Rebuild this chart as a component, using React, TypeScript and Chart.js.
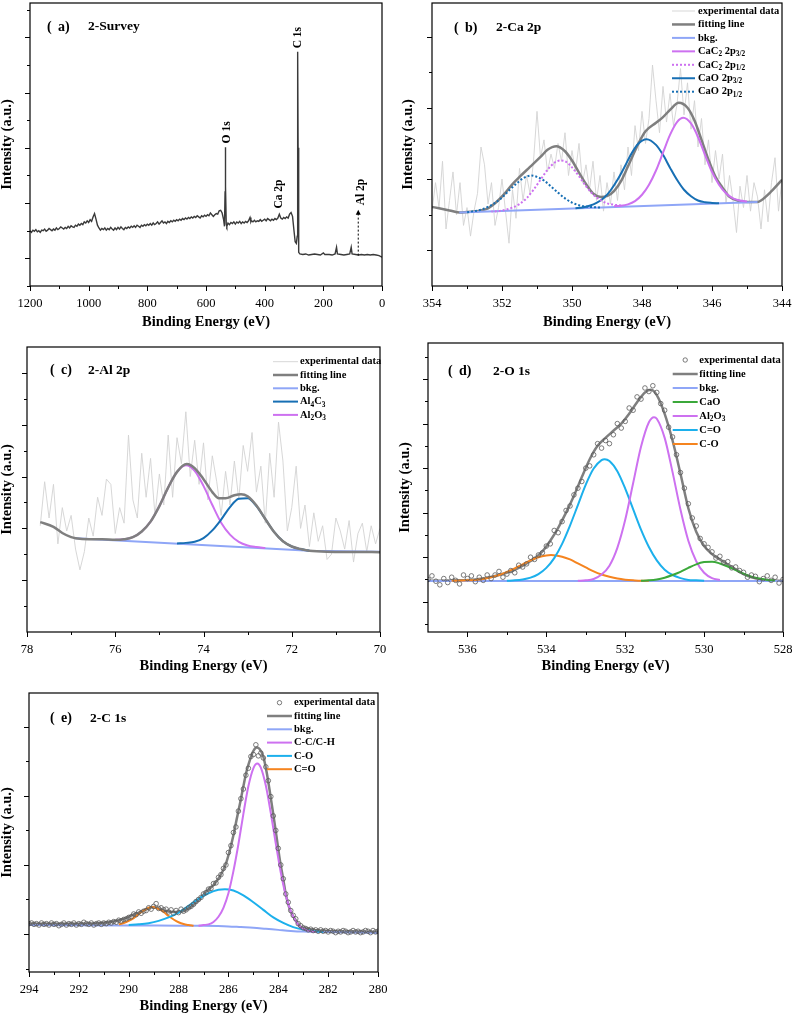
import React, { useEffect, useRef } from "react";
import { Chart, registerables } from "chart.js";

Chart.register(...registerables);

type Pt = [number, number];
const SERIF = "'Liberation Serif', 'Times New Roman', serif";
Chart.defaults.font.family = SERIF;
Chart.defaults.color = "#000";

// ---------------- colours ----------------
const C_FIT = "#7f7f7f";
const C_BKG = "#8fa6f7";
const C_VIOLET = "#cd71f0";
const C_DBLUE = "#176fb4";
const C_LBLUE = "#1cb0ec";
const C_ORANGE = "#f5841f";
const C_GREEN = "#3ba83a";
const C_EXP = "#d3d3d3";
const C_CIRC = "#5a5a5a";
const C_SURVEY = "#3a3a3a";

// ---------------- (a) 2-Survey ----------------
const aXMajor = [0, 200, 400, 600, 800, 1000, 1200];
const aXMinor = [100, 300, 500, 700, 900, 1100];
const aYMajor = [0, 1, 2, 3, 4];
const aYMinor = [-0.5, 0.5, 1.5, 2.5, 3.5, 4.5];
const aSurvey: Pt[] = [
  [1200, 0.5], [1195, 0.47], [1190, 0.51], [1185, 0.49], [1180, 0.52], [1175, 0.48], [1170, 0.5], [1165, 0.47],
  [1160, 0.51], [1155, 0.5], [1150, 0.53], [1145, 0.49], [1140, 0.51], [1135, 0.54], [1130, 0.52], [1125, 0.5],
  [1120, 0.53], [1115, 0.51], [1110, 0.55], [1105, 0.52], [1100, 0.54], [1095, 0.57], [1090, 0.55], [1085, 0.53],
  [1080, 0.56], [1075, 0.54], [1070, 0.58], [1065, 0.55], [1060, 0.59], [1055, 0.57], [1050, 0.56], [1045, 0.6],
  [1040, 0.58], [1035, 0.62], [1030, 0.6], [1025, 0.63], [1020, 0.61], [1015, 0.66], [1010, 0.64], [1005, 0.68],
  [1000, 0.65], [995, 0.7], [990, 0.67], [985, 0.75], [980, 0.81], [975, 0.71], [970, 0.6], [965, 0.55],
  [960, 0.51], [955, 0.54], [950, 0.52], [945, 0.55], [940, 0.51], [935, 0.54], [930, 0.52], [925, 0.56],
  [920, 0.53], [915, 0.51], [910, 0.55], [905, 0.52], [900, 0.56], [895, 0.53], [890, 0.57], [885, 0.54],
  [880, 0.52], [875, 0.56], [870, 0.54], [865, 0.57], [860, 0.55], [855, 0.58], [850, 0.56], [845, 0.59],
  [840, 0.56], [835, 0.6], [830, 0.58], [825, 0.56], [820, 0.6], [815, 0.58], [810, 0.61], [805, 0.59],
  [800, 0.62], [795, 0.6], [790, 0.63], [785, 0.6], [780, 0.64], [775, 0.61], [770, 0.63], [765, 0.66],
  [760, 0.62], [755, 0.65], [750, 0.68], [745, 0.64], [740, 0.66], [735, 0.63], [730, 0.67], [725, 0.65],
  [720, 0.68], [715, 0.66], [710, 0.69], [705, 0.67], [700, 0.7], [695, 0.68], [690, 0.71], [685, 0.69],
  [680, 0.72], [675, 0.7], [670, 0.73], [665, 0.71], [660, 0.74], [655, 0.72], [650, 0.75], [645, 0.73],
  [640, 0.76], [635, 0.74], [630, 0.77], [625, 0.75], [620, 0.73], [615, 0.77], [610, 0.75], [605, 0.78],
  [600, 0.76], [595, 0.79], [590, 0.77], [585, 0.82], [580, 0.79], [575, 0.76], [570, 0.79], [565, 0.81],
  [560, 0.8], [555, 0.86], [550, 0.87], [545, 0.82], [540, 0.7], [537, 0.58], [535, 1.2], [534, 2.01],
  [533, 1.3], [531, 0.62], [529, 0.58], [525, 0.64], [520, 0.61], [515, 0.65], [510, 0.63], [505, 0.66],
  [500, 0.62], [495, 0.66], [490, 0.64], [485, 0.67], [480, 0.63], [475, 0.66], [470, 0.64], [465, 0.67],
  [460, 0.65], [455, 0.68], [450, 0.74], [447, 0.66], [445, 0.68], [440, 0.66], [435, 0.69], [430, 0.66],
  [425, 0.68], [420, 0.67], [415, 0.7], [410, 0.67], [405, 0.69], [400, 0.71], [395, 0.68], [390, 0.72],
  [385, 0.7], [380, 0.68], [375, 0.71], [370, 0.69], [365, 0.72], [360, 0.7], [355, 0.73], [350, 0.8],
  [345, 0.73], [340, 0.71], [335, 0.74], [330, 0.72], [325, 0.75], [320, 0.73], [315, 0.8], [310, 0.83],
  [305, 0.76], [300, 0.5], [296, 0.3], [292, 0.27], [289, 0.4], [288, 1.8], [287, 3.74], [286, 2.0],
  [285, 0.6], [283, 0.11], [280, 0.08], [270, 0.07], [260, 0.08], [250, 0.06], [240, 0.07], [230, 0.08],
  [220, 0.07], [210, 0.06], [200, 0.1], [195, 0.07], [180, 0.07], [170, 0.06], [160, 0.08], [155, 0.2],
  [152, 0.08], [140, 0.07], [130, 0.06], [120, 0.07], [110, 0.08], [105, 0.2], [102, 0.08], [90, 0.07],
  [80, 0.06], [70, 0.07], [60, 0.06], [50, 0.07], [40, 0.06], [30, 0.07], [20, 0.06], [10, 0.05], [0, 0.02],
];
// peak annotations: text, binding energy, intensity where the text starts
const aPeakLabels: { text: string; be: number; v: number }[] = [
  { text: "O 1s", be: 528, v: 2.08 },
  { text: "C 1s", be: 286, v: 3.8 },
  { text: "Ca 2p", be: 351, v: 0.9 },
  { text: "Al 2p", be: 72, v: 0.96 },
];
const aArrow = { be: 81, from: 0.05, to: 0.88 };

// ---------------- (b) 2-Ca 2p ----------------
const bXMajor = [344, 346, 348, 350, 352, 354];
const bXMinor = [345, 347, 349, 351, 353];
const bYMajor = [0, 1, 2, 3];
const bYMinor = [0.5, 1.5, 2.5];
const bExpStart = 344.0;
const bExpStep = 0.1;
const bExpY = [
  1.0, 0.55, 1.3, 0.95, 0.4, 0.85, 0.3, 0.75, 0.95, 0.55,
  1.05, 0.6, 0.9, 0.25, 0.7, 1.05, 0.65, 1.35, 1.0, 1.4,
  0.95, 1.55, 1.2, 1.85, 1.45, 2.1, 1.7, 2.35, 1.9, 2.55,
  2.05, 1.75, 2.2, 1.8, 2.3, 1.65, 2.1, 2.6, 1.85, 1.5,
  1.95, 1.4, 1.75, 1.05, 1.45, 0.85, 1.2, 0.7, 1.1, 0.65,
  0.95, 0.55, 1.05, 0.7, 1.25, 0.85, 1.2, 0.95, 1.5, 1.1,
  1.4, 1.05, 1.65, 1.25, 1.5, 1.15, 1.35, 1.1, 1.55, 1.3,
  1.95, 1.25, 0.8, 1.05, 0.7, 1.15, 0.45, 0.85, 0.1, 0.55,
  1.0, 0.6, 0.35, 0.95, 0.65, 1.2, 1.45, 0.8, 0.55, 0.2,
  0.6, 0.35, 0.95, 0.5, 1.1, 0.7, 0.3, 1.25, 0.6, 0.95,
  0.55,
];
const bFit: Pt[] = [
  [344.0, 0.99], [344.3, 0.83], [344.6, 0.7], [344.7, 0.68], [345.0, 0.68], [345.2, 0.69], [345.5, 0.75],
  [345.7, 0.88], [345.9, 1.03], [346.1, 1.27], [346.3, 1.55], [346.5, 1.82], [346.7, 2.0], [346.95, 2.07],
  [347.2, 1.97], [347.4, 1.87], [347.6, 1.79], [347.9, 1.67], [348.1, 1.5], [348.4, 1.18], [348.6, 0.97],
  [348.8, 0.83], [349.0, 0.76], [349.17, 0.75], [349.4, 0.8], [349.6, 0.93], [349.8, 1.09], [350.0, 1.26],
  [350.2, 1.39], [350.45, 1.46], [350.7, 1.41], [350.9, 1.31], [351.2, 1.17], [351.5, 1.03], [351.7, 0.93],
  [351.9, 0.81], [352.2, 0.66], [352.4, 0.59], [352.6, 0.56], [352.9, 0.54], [353.2, 0.53], [353.5, 0.56],
  [353.8, 0.59], [354.0, 0.61],
];
const bBkg: Pt[] = [[344.7, 0.68], [353.22, 0.53]];
const bCaC2_32: Pt[] = [
  [345.0, 0.684], [345.2, 0.7], [345.4, 0.73], [345.6, 0.8], [345.8, 0.92], [346.0, 1.1], [346.2, 1.34],
  [346.4, 1.59], [346.6, 1.78], [346.82, 1.86], [347.0, 1.8], [347.2, 1.62], [347.4, 1.37], [347.6, 1.12],
  [347.8, 0.92], [348.0, 0.78], [348.2, 0.69], [348.4, 0.645], [348.6, 0.625], [348.8, 0.62],
];
const bCaC2_12: Pt[] = [
  [348.6, 0.63], [348.8, 0.64], [349.0, 0.66], [349.2, 0.71], [349.4, 0.785], [349.6, 0.9], [349.8, 1.04],
  [350.0, 1.165], [350.2, 1.25], [350.33, 1.26], [350.5, 1.23], [350.7, 1.13], [350.9, 0.99], [351.1, 0.85],
  [351.3, 0.73], [351.5, 0.65], [351.7, 0.6], [351.9, 0.57], [352.1, 0.55], [352.3, 0.545],
];
const bCaO_32: Pt[] = [
  [345.8, 0.66], [346.0, 0.665], [346.2, 0.675], [346.4, 0.7], [346.6, 0.76], [346.8, 0.85], [347.0, 0.99],
  [347.2, 1.16], [347.4, 1.34], [347.6, 1.48], [347.87, 1.56], [348.1, 1.5], [348.3, 1.36], [348.5, 1.17],
  [348.7, 0.99], [348.9, 0.84], [349.1, 0.73], [349.3, 0.665], [349.5, 0.625], [349.7, 0.6], [349.9, 0.59],
];
const bCaO_12: Pt[] = [
  [349.2, 0.6], [349.4, 0.606], [349.6, 0.614], [349.8, 0.633], [350.0, 0.67], [350.2, 0.73], [350.4, 0.81],
  [350.6, 0.895], [350.8, 0.98], [351.0, 1.03], [351.16, 1.05], [351.4, 1.01], [351.6, 0.93], [351.8, 0.84],
  [352.0, 0.74], [352.2, 0.665], [352.4, 0.61], [352.6, 0.57], [352.8, 0.55], [353.0, 0.535],
];

// ---------------- (c) 2-Al 2p ----------------
const cXMajor = [70, 72, 74, 76, 78];
const cXMinor = [71, 73, 75, 77];
const cYMajor = [0, 1, 2, 3, 4];
const cYMinor = [-0.5, 0.5, 1.5, 2.5, 3.5];
const cExpStart = 70.0;
const cExpStep = 0.1;
const cExpY = [
  1.0, 0.7, 1.05, 0.55, 1.1, 0.9, 0.35, 1.15, 0.6, 0.95,
  1.2, 0.5, 0.4, 1.05, 0.75, 1.3, 0.65, 1.45, 1.0, 2.2,
  1.4, 0.95, 2.3, 3.05, 1.6, 2.45, 1.1, 2.2, 1.7, 2.85,
  2.1, 2.6, 1.55, 2.3, 1.45, 2.1, 1.25, 1.9, 2.4, 1.55,
  2.65, 1.85, 2.7, 2.0, 3.25, 2.25, 2.75, 1.6, 2.8, 1.45,
  2.05, 1.25, 2.35, 1.6, 2.45, 1.2, 1.55, 2.8, 1.1, 1.4,
  0.9, 1.85, 1.95, 1.25, 1.6, 0.85, 1.2, 0.55, 0.2, 0.6,
  1.25, 0.95, 1.4, 0.7, 1.85, 1.2, 1.9, 1.05,
];
const cFit: Pt[] = [
  [70.0, 0.54], [70.6, 0.545], [71.2, 0.55], [71.6, 0.57], [71.8, 0.6], [72.0, 0.65], [72.2, 0.75],
  [72.4, 0.93], [72.6, 1.18], [72.8, 1.44], [73.0, 1.62], [73.15, 1.66], [73.3, 1.64], [73.5, 1.58],
  [73.65, 1.58], [73.8, 1.7], [74.0, 1.95], [74.2, 2.16], [74.38, 2.24], [74.6, 2.09], [74.8, 1.79],
  [75.0, 1.43], [75.2, 1.13], [75.4, 0.94], [75.6, 0.83], [75.8, 0.79], [76.0, 0.78], [76.3, 0.79],
  [76.6, 0.79], [76.9, 0.81], [77.0, 0.83], [77.2, 0.91], [77.4, 1.03], [77.7, 1.12],
];
const cBkg: Pt[] = [[70.0, 0.55], [71.6, 0.57], [76.9, 0.81]];
const cAl4C3: Pt[] = [
  [71.6, 0.57], [71.8, 0.6], [72.0, 0.65], [72.2, 0.75], [72.4, 0.93], [72.6, 1.18], [72.8, 1.43],
  [73.0, 1.58], [73.2, 1.57], [73.4, 1.41], [73.6, 1.17], [73.8, 0.96], [74.0, 0.81], [74.2, 0.74],
  [74.4, 0.72], [74.6, 0.71],
];
const cAl2O3: Pt[] = [
  [72.6, 0.62], [72.8, 0.64], [73.0, 0.67], [73.2, 0.74], [73.4, 0.88], [73.6, 1.11], [73.8, 1.45],
  [74.0, 1.82], [74.2, 2.11], [74.4, 2.22], [74.6, 2.09], [74.8, 1.79], [75.0, 1.43], [75.2, 1.13],
  [75.4, 0.94], [75.6, 0.83], [75.8, 0.79], [76.0, 0.78],
];

// ---------------- (d) 2-O 1s ----------------
const dXMajor = [528, 530, 532, 534, 536];
const dXMinor = [529, 531, 533, 535];
const dYMajor = [0, 1, 2, 3, 4, 5];
const dYMinor = [-0.5, 0.5, 1.5, 2.5, 3.5, 4.5, 5.5];
const dExpStart = 528.0;
const dExpStep = 0.1;
const dExpY = [
  0.5, 0.42, 0.55, 0.48, 0.58, 0.52, 0.45, 0.57, 0.6, 0.55,
  0.66, 0.7, 0.78, 0.76, 0.9, 0.88, 1.02, 0.98, 1.12, 1.22,
  1.3, 1.42, 1.7, 1.88, 2.2, 2.55, 2.9, 3.3, 3.7, 3.92,
  4.3, 4.45, 4.7, 4.85, 4.72, 4.8, 4.55, 4.6, 4.3, 4.35,
  4.05, 3.9, 4.0, 3.75, 3.55, 3.62, 3.45, 3.55, 3.3, 3.05,
  3.0, 2.7, 2.55, 2.4, 2.15, 2.05, 1.8, 1.55, 1.6, 1.3,
  1.25, 1.1, 1.05, 0.95, 1.0, 0.85, 0.78, 0.82, 0.65, 0.7,
  0.62, 0.55, 0.68, 0.6, 0.52, 0.6, 0.48, 0.55, 0.45, 0.58,
  0.52, 0.6, 0.4, 0.48, 0.55, 0.43, 0.52, 0.38, 0.46, 0.58,
  0.5,
];
const dFit: Pt[] = [
  [528.0, 0.47], [528.4, 0.48], [528.8, 0.55], [529.0, 0.62], [529.2, 0.73], [529.4, 0.84], [529.6, 0.95],
  [529.8, 1.07], [530.0, 1.25], [530.2, 1.57], [530.4, 2.1], [530.6, 2.88], [530.8, 3.62], [531.0, 4.22],
  [531.2, 4.64], [531.35, 4.76], [531.5, 4.7], [531.7, 4.48], [531.9, 4.22], [532.1, 4.0], [532.3, 3.84],
  [532.5, 3.68], [532.7, 3.5], [532.9, 3.2], [533.1, 2.8], [533.3, 2.38], [533.5, 2.0], [533.7, 1.66],
  [533.9, 1.37], [534.1, 1.13], [534.3, 0.97], [534.5, 0.86], [534.7, 0.76], [534.9, 0.68], [535.2, 0.6],
  [535.5, 0.54], [535.8, 0.5], [536.2, 0.48], [537.0, 0.47],
];
const dBkg: Pt[] = [[528.0, 0.465], [537.0, 0.465]];
const dCaO: Pt[] = [
  [528.2, 0.475], [528.4, 0.49], [528.6, 0.52], [528.8, 0.56], [529.0, 0.63], [529.2, 0.71], [529.4, 0.79],
  [529.6, 0.86], [529.8, 0.9], [530.0, 0.89], [530.2, 0.84], [530.4, 0.76], [530.6, 0.67], [530.8, 0.6],
  [531.0, 0.54], [531.2, 0.5], [531.4, 0.48], [531.6, 0.47],
];
const dAl2O3: Pt[] = [
  [529.6, 0.49], [529.8, 0.53], [530.0, 0.65], [530.2, 0.91], [530.4, 1.37], [530.6, 2.07], [530.8, 2.91],
  [531.0, 3.68], [531.2, 4.11], [531.27, 4.145], [531.4, 4.03], [531.6, 3.48], [531.8, 2.66], [532.0, 1.84],
  [532.2, 1.21], [532.4, 0.81], [532.6, 0.61], [532.8, 0.51], [533.0, 0.48], [533.2, 0.47],
];
const dCdO: Pt[] = [
  [530.0, 0.47], [530.2, 0.48], [530.4, 0.49], [530.6, 0.53], [530.8, 0.6], [531.0, 0.72], [531.2, 0.93],
  [531.4, 1.23], [531.6, 1.62], [531.8, 2.08], [532.0, 2.54], [532.2, 2.93], [532.4, 3.16], [532.52, 3.2],
  [532.6, 3.18], [532.8, 2.99], [533.0, 2.63], [533.2, 2.17], [533.4, 1.71], [533.6, 1.3], [533.8, 0.98],
  [534.0, 0.76], [534.2, 0.62], [534.4, 0.54], [534.6, 0.5], [534.8, 0.48], [535.0, 0.47],
];
const dCO: Pt[] = [
  [531.4, 0.47], [531.6, 0.47], [531.8, 0.48], [532.0, 0.495], [532.2, 0.52], [532.4, 0.56], [532.6, 0.61],
  [532.8, 0.68], [533.0, 0.77], [533.2, 0.86], [533.4, 0.95], [533.6, 1.01], [533.88, 1.05], [534.0, 1.04],
  [534.2, 1.0], [534.4, 0.93], [534.6, 0.84], [534.8, 0.75], [535.0, 0.67], [535.2, 0.6], [535.4, 0.55],
  [535.6, 0.51], [535.8, 0.49], [536.0, 0.48], [536.4, 0.47],
];

// ---------------- (e) 2-C 1s ----------------
const eXMajor = [280, 282, 284, 286, 288, 290, 292, 294];
const eXMinor = [281, 283, 285, 287, 289, 291, 293];
const eYMajor = [0, 1, 2, 3];
const eYMinor = [-0.5, 0.5, 1.5, 2.5];
const eExpStart = 280.0;
const eExpStep = 0.1;
const eExpY = [
  0.04, 0.03, 0.05, 0.02, 0.04, 0.05, 0.03, 0.02, 0.04, 0.03,
  0.05, 0.03, 0.02, 0.04, 0.05, 0.03, 0.04, 0.02, 0.04, 0.05,
  0.03, 0.05, 0.04, 0.06, 0.04, 0.06, 0.05, 0.07, 0.06, 0.08,
  0.09, 0.12, 0.15, 0.22, 0.27, 0.34, 0.46, 0.58, 0.8, 1.0,
  1.24, 1.5, 1.71, 1.99, 2.22, 2.42, 2.55, 2.62, 2.58, 2.74,
  2.6, 2.57, 2.4, 2.3, 2.1, 1.96, 1.78, 1.55, 1.47, 1.28,
  1.18, 1.0, 0.95, 0.86, 0.82, 0.74, 0.73, 0.66, 0.65, 0.6,
  0.58, 0.53, 0.5, 0.47, 0.43, 0.4, 0.38, 0.35, 0.33, 0.36,
  0.31, 0.34, 0.3, 0.35, 0.32, 0.36, 0.35, 0.38, 0.37, 0.44,
  0.4, 0.36, 0.38, 0.34, 0.33, 0.3, 0.32, 0.28, 0.29, 0.25,
  0.24, 0.22, 0.21, 0.19, 0.2, 0.17, 0.18, 0.16, 0.17, 0.15,
  0.16, 0.14, 0.16, 0.15, 0.13, 0.16, 0.14, 0.15, 0.17, 0.14,
  0.15, 0.13, 0.16, 0.14, 0.15, 0.13, 0.16, 0.14, 0.12, 0.15,
  0.14, 0.16, 0.13, 0.15, 0.14, 0.16, 0.13, 0.15, 0.14, 0.16,
  0.15,
];
const eFit: Pt[] = [
  [280, 0.03], [281, 0.035], [282, 0.045], [282.6, 0.06], [283.0, 0.09], [283.13, 0.11], [283.3, 0.2],
  [283.53, 0.35], [283.7, 0.58], [283.8, 0.79], [283.95, 1.1], [284.07, 1.41], [284.2, 1.73], [284.33, 2.04],
  [284.47, 2.35], [284.6, 2.57], [284.75, 2.68], [284.87, 2.7], [285.0, 2.65], [285.13, 2.53], [285.27, 2.36],
  [285.4, 2.14], [285.53, 1.9], [285.67, 1.66], [285.8, 1.43], [285.94, 1.22], [286.1, 1.02], [286.35, 0.83],
  [286.6, 0.71], [286.88, 0.62], [287.15, 0.51], [287.41, 0.42], [287.7, 0.35], [287.95, 0.32], [288.2, 0.32],
  [288.48, 0.33], [288.8, 0.37], [289.05, 0.39], [289.35, 0.35], [289.6, 0.31], [289.82, 0.28], [290.1, 0.23],
  [290.4, 0.2], [290.8, 0.17], [291.3, 0.155], [292, 0.15], [294, 0.15],
];
const eBkg: Pt[] = [
  [280, 0.015], [281, 0.022], [282, 0.028], [283, 0.035], [283.5, 0.045], [284, 0.06], [284.5, 0.075],
  [285, 0.09], [285.5, 0.1], [286, 0.11], [287, 0.118], [288, 0.12], [290, 0.125], [294, 0.13],
];
const eCC: Pt[] = [
  [282.5, 0.03], [282.7, 0.04], [282.9, 0.06], [283.1, 0.1], [283.3, 0.185], [283.5, 0.33], [283.7, 0.56],
  [283.9, 0.89], [284.1, 1.31], [284.3, 1.75], [284.5, 2.15], [284.7, 2.41], [284.84, 2.47], [285.0, 2.4],
  [285.2, 2.14], [285.4, 1.74], [285.6, 1.3], [285.8, 0.91], [286.0, 0.59], [286.2, 0.38], [286.4, 0.25],
  [286.6, 0.175], [286.8, 0.14], [287.0, 0.13], [287.2, 0.12],
];
const eCO: Pt[] = [
  [282.2, 0.03], [282.6, 0.043], [283.0, 0.064], [283.4, 0.1], [283.8, 0.16], [284.2, 0.24], [284.6, 0.35],
  [285.0, 0.46], [285.4, 0.56], [285.8, 0.63], [286.14, 0.65], [286.4, 0.64], [286.8, 0.59], [287.2, 0.51],
  [287.6, 0.41], [288.0, 0.31], [288.4, 0.24], [288.8, 0.19], [289.2, 0.157], [289.6, 0.14], [290.0, 0.13],
];
const eCdO: Pt[] = [
  [287.4, 0.12], [287.6, 0.13], [287.8, 0.144], [288.0, 0.17], [288.2, 0.21], [288.4, 0.26], [288.6, 0.32],
  [288.8, 0.36], [289.04, 0.39], [289.2, 0.38], [289.4, 0.34], [289.6, 0.29], [289.8, 0.23], [290.0, 0.19],
  [290.2, 0.16], [290.4, 0.14],
];

// ---------------- helpers ----------------
const onGrid = (start: number, step: number, ys: number[]): Pt[] =>
  ys.map((y, i) => [Number((start + i * step).toFixed(3)), y]);

interface Series {
  label: string;
  pts: Pt[];
  color: string;
  width: number;
  dash?: number[];
  circles?: boolean;
  smooth?: boolean;
  order: number;
}

interface Panel {
  key: string;
  left: number; top: number; width: number; height: number;
  padTop: number; padRight: number; yW: number; xH: number;
  xMin: number; xMax: number; yMin: number; yMax: number;
  xMajor: number[]; xMinor: number[]; yMajor: number[]; yMinor: number[];
  series: Series[];
  letter: string; title: string;
  parenX: number; titleX: number; labelY: number;
  legend?: { x0: number; x1: number; tx: number; y0: number; dy: number };
  extra?: (chart: any) => void;
}

function parseRich(s: string) {
  const out: { t: string; sub: boolean }[] = [];
  let buf = "";
  let i = 0;
  while (i < s.length) {
    if (s[i] === "_") {
      if (buf) { out.push({ t: buf, sub: false }); buf = ""; }
      if (s[i + 1] === "{") {
        const j = s.indexOf("}", i);
        out.push({ t: s.slice(i + 2, j), sub: true });
        i = j + 1;
      } else {
        out.push({ t: s[i + 1], sub: true });
        i += 2;
      }
    } else {
      buf += s[i];
      i++;
    }
  }
  if (buf) out.push({ t: buf, sub: false });
  return out;
}

function drawRich(ctx: CanvasRenderingContext2D, text: string, x: number, y: number, size: number) {
  let cx = x;
  ctx.textAlign = "left";
  ctx.textBaseline = "middle";
  for (const p of parseRich(text)) {
    const fs = p.sub ? size * 0.7 : size;
    ctx.font = `bold ${fs}px ${SERIF}`;
    ctx.fillText(p.t, cx, p.sub ? y + size * 0.3 : y);
    cx += ctx.measureText(p.t).width;
  }
}

function makeDecor(p: Panel) {
  return {
    id: "decor_" + p.key,
    afterDatasetsDraw(chart: any) {
      const { ctx, chartArea: a, scales } = chart;
      const xs = scales.x;
      const ys = scales.y;
      ctx.save();
      ctx.strokeStyle = "#000";
      ctx.lineWidth = 1.2;
      ctx.setLineDash([]);
      ctx.strokeRect(a.left, a.top, a.right - a.left, a.bottom - a.top);
      ctx.lineWidth = 1;
      ctx.beginPath();
      const tx = (v: number, len: number) => {
        const px = Math.round(xs.getPixelForValue(v)) + 0.5;
        ctx.moveTo(px, a.bottom);
        ctx.lineTo(px, a.bottom + len);
      };
      const ty = (v: number, len: number) => {
        const py = Math.round(ys.getPixelForValue(v)) + 0.5;
        ctx.moveTo(a.left, py);
        ctx.lineTo(a.left - len, py);
      };
      p.xMajor.forEach((v) => tx(v, 5));
      p.xMinor.forEach((v) => tx(v, 3));
      p.yMajor.forEach((v) => ty(v, 5));
      p.yMinor.forEach((v) => ty(v, 3));
      ctx.stroke();

      // legend
      if (p.legend) {
        const L = p.legend;
        chart.data.datasets.forEach((ds: any, i: number) => {
          const y = L.y0 + i * L.dy;
          const s = p.series[i];
          ctx.save();
          ctx.strokeStyle = s.color;
          if (s.circles) {
            ctx.lineWidth = 0.8;
            ctx.beginPath();
            ctx.arc((L.x0 + L.x1) / 2, y, 2.2, 0, Math.PI * 2);
            ctx.stroke();
          } else {
            ctx.lineWidth = s.width;
            ctx.setLineDash(s.dash ?? []);
            ctx.beginPath();
            ctx.moveTo(L.x0, y);
            ctx.lineTo(L.x1, y);
            ctx.stroke();
          }
          ctx.restore();
          ctx.fillStyle = "#000";
          drawRich(ctx, ds.label, L.tx, y, 10.5);
        });
      }

      // panel tag
      ctx.fillStyle = "#000";
      ctx.textBaseline = "middle";
      ctx.textAlign = "left";
      ctx.font = `bold 14px ${SERIF}`;
      ctx.fillText("(", p.parenX, p.labelY);
      ctx.fillText(`${p.letter})`, p.parenX + 11, p.labelY);
      ctx.font = `bold 13.5px ${SERIF}`;
      ctx.fillText(p.title, p.titleX, p.labelY);

      if (p.extra) p.extra(chart);
      ctx.restore();
    },
  };
}

function PanelChart({ p }: { p: Panel }) {
  const ref = useRef<HTMLCanvasElement>(null);
  useEffect(() => {
    const chart = new Chart(ref.current as HTMLCanvasElement, {
      type: "line",
      data: {
        datasets: p.series.map((s) => ({
          label: s.label,
          data: s.pts.map(([x, y]) => ({ x, y })),
          borderColor: s.color,
          backgroundColor: "transparent",
          borderWidth: s.circles ? 0.8 : s.width,
          borderDash: s.dash ?? [],
          showLine: !s.circles,
          pointRadius: s.circles ? 2.3 : 0,
          pointHoverRadius: 0,
          pointBorderWidth: 0.8,
          pointBorderColor: s.color,
          pointBackgroundColor: "transparent",
          pointStyle: "circle",
          cubicInterpolationMode: s.smooth ? "monotone" : "default",
          tension: 0,
          fill: false,
          order: s.order,
        })) as any,
      },
      options: {
        responsive: false,
        animation: false,
        devicePixelRatio: 1,
        events: [],
        layout: { padding: { top: p.padTop, right: p.padRight, left: 0, bottom: 0 } },
        plugins: { legend: { display: false }, tooltip: { enabled: false } },
        scales: {
          x: {
            type: "linear",
            min: p.xMin,
            max: p.xMax,
            reverse: true,
            afterBuildTicks: (s: any) => {
              s.ticks = p.xMajor.map((v) => ({ value: v }));
            },
            afterFit: (s: any) => {
              s.height = p.xH;
            },
            ticks: {
              autoSkip: false,
              maxRotation: 0,
              padding: 4,
              color: "#000",
              font: { family: SERIF, size: 12.5 },
              callback: (v: any) => String(v),
            },
            grid: {
              display: true,
              drawOnChartArea: false,
              drawTicks: true,
              tickLength: 6,
              color: "transparent",
              tickColor: "transparent",
            },
            border: { display: false },
            title: {
              display: true,
              text: "Binding Energy (eV)",
              color: "#000",
              padding: 0,
              font: { family: SERIF, size: 14.5, weight: "bold", lineHeight: 1.2 },
            },
          },
          y: {
            type: "linear",
            min: p.yMin,
            max: p.yMax,
            afterFit: (s: any) => {
              s.width = p.yW;
            },
            ticks: { display: false },
            grid: { display: false },
            border: { display: false },
            title: {
              display: true,
              text: "Intensity (a.u.)",
              color: "#000",
              padding: 0,
              font: { family: SERIF, size: 14.5, weight: "bold", lineHeight: 1 },
            },
          },
        },
      } as any,
      plugins: [makeDecor(p)],
    });
    return () => chart.destroy();
  }, [p]);
  return (
    <canvas
      ref={ref}
      width={p.width}
      height={p.height}
      style={{ position: "absolute", left: p.left, top: p.top, width: p.width, height: p.height }}
    />
  );
}

// ---------------- panels ----------------
const panelA: Panel = {
  key: "a", left: 0, top: 0, width: 396, height: 331,
  padTop: 3, padRight: 14, yW: 30, xH: 45,
  xMin: 0, xMax: 1200, yMin: -0.5, yMax: 4.62,
  xMajor: aXMajor, xMinor: aXMinor, yMajor: aYMajor, yMinor: aYMinor,
  series: [{ label: "2-Survey", pts: aSurvey, color: C_SURVEY, width: 1.4, order: 1 }],
  letter: "a", title: "2-Survey", parenX: 47, titleX: 88, labelY: 27,
  extra: (chart: any) => {
    const { ctx, scales } = chart;
    const xs = scales.x;
    const ys = scales.y;
    ctx.fillStyle = "#000";
    ctx.font = `bold 11.5px ${SERIF}`;
    for (const l of aPeakLabels) {
      ctx.save();
      ctx.translate(xs.getPixelForValue(l.be), ys.getPixelForValue(l.v));
      ctx.rotate(-Math.PI / 2);
      ctx.textAlign = "left";
      ctx.textBaseline = "middle";
      ctx.fillText(l.text, 0, 0);
      ctx.restore();
    }
    const ax = xs.getPixelForValue(aArrow.be);
    const y0 = ys.getPixelForValue(aArrow.from);
    const y1 = ys.getPixelForValue(aArrow.to);
    ctx.save();
    ctx.strokeStyle = "#000";
    ctx.lineWidth = 1;
    ctx.setLineDash([2, 2]);
    ctx.beginPath();
    ctx.moveTo(ax, y0);
    ctx.lineTo(ax, y1 + 4);
    ctx.stroke();
    ctx.setLineDash([]);
    ctx.beginPath();
    ctx.moveTo(ax, y1);
    ctx.lineTo(ax - 2.5, y1 + 5);
    ctx.lineTo(ax + 2.5, y1 + 5);
    ctx.closePath();
    ctx.fill();
    ctx.restore();
  },
};

const panelB: Panel = {
  key: "b", left: 401, top: 0, width: 391, height: 331,
  padTop: 3, padRight: 10, yW: 31, xH: 45,
  xMin: 344, xMax: 354, yMin: -0.5, yMax: 3.47,
  xMajor: bXMajor, xMinor: bXMinor, yMajor: bYMajor, yMinor: bYMinor,
  series: [
    { label: "experimental data", pts: onGrid(bExpStart, bExpStep, bExpY), color: C_EXP, width: 0.9, order: 100 },
    { label: "fitting line", pts: bFit, color: C_FIT, width: 2.5, smooth: true, order: 40 },
    { label: "bkg.", pts: bBkg, color: C_BKG, width: 2, order: 30 },
    { label: "CaC_2 2p_{3/2}", pts: bCaC2_32, color: C_VIOLET, width: 2, smooth: true, order: 10 },
    { label: "CaC_2 2p_{1/2}", pts: bCaC2_12, color: C_VIOLET, width: 2, dash: [2, 2], smooth: true, order: 11 },
    { label: "CaO 2p_{3/2}", pts: bCaO_32, color: C_DBLUE, width: 2, smooth: true, order: 12 },
    { label: "CaO 2p_{1/2}", pts: bCaO_12, color: C_DBLUE, width: 2, dash: [2, 2], smooth: true, order: 13 },
  ],
  letter: "b", title: "2-Ca 2p", parenX: 53, titleX: 95, labelY: 28,
  legend: { x0: 271, x1: 294, tx: 297, y0: 11, dy: 13.45 },
};

const panelC: Panel = {
  key: "c", left: 0, top: 330, width: 396, height: 345,
  padTop: 17, padRight: 16, yW: 27, xH: 43,
  xMin: 70, xMax: 78, yMin: -1, yMax: 4.5,
  xMajor: cXMajor, xMinor: cXMinor, yMajor: cYMajor, yMinor: cYMinor,
  series: [
    { label: "experimental data", pts: onGrid(cExpStart, cExpStep, cExpY), color: C_EXP, width: 0.9, order: 100 },
    { label: "fitting line", pts: cFit, color: C_FIT, width: 2.5, smooth: true, order: 5 },
    { label: "bkg.", pts: cBkg, color: C_BKG, width: 2, order: 30 },
    { label: "Al_4C_3", pts: cAl4C3, color: C_DBLUE, width: 2, smooth: true, order: 10 },
    { label: "Al_2O_3", pts: cAl2O3, color: C_VIOLET, width: 2, smooth: true, order: 11 },
  ],
  letter: "c", title: "2-Al 2p", parenX: 50, titleX: 88, labelY: 40.7,
  legend: { x0: 273, x1: 298, tx: 300, y0: 31.7, dy: 13.3 },
};

const panelD: Panel = {
  key: "d", left: 398, top: 330, width: 395, height: 345,
  padTop: 13, padRight: 10, yW: 30, xH: 43,
  xMin: 528, xMax: 537, yMin: -0.68, yMax: 5.81,
  xMajor: dXMajor, xMinor: dXMinor, yMajor: dYMajor, yMinor: dYMinor,
  series: [
    { label: "experimental data", pts: onGrid(dExpStart, dExpStep, dExpY), color: C_CIRC, width: 0.8, circles: true, order: 0 },
    { label: "fitting line", pts: dFit, color: C_FIT, width: 2.5, smooth: true, order: 40 },
    { label: "bkg.", pts: dBkg, color: C_BKG, width: 2, order: 30 },
    { label: "CaO", pts: dCaO, color: C_GREEN, width: 2, smooth: true, order: 10 },
    { label: "Al_2O_3", pts: dAl2O3, color: C_VIOLET, width: 2, smooth: true, order: 11 },
    { label: "C=O", pts: dCdO, color: C_LBLUE, width: 2, smooth: true, order: 12 },
    { label: "C-O", pts: dCO, color: C_ORANGE, width: 2, smooth: true, order: 13 },
  ],
  letter: "d", title: "2-O 1s", parenX: 50, titleX: 95, labelY: 41.7,
  legend: { x0: 274.7, x1: 299.7, tx: 301.3, y0: 30, dy: 14 },
};

const panelE: Panel = {
  key: "e", left: 0, top: 680, width: 396, height: 335,
  padTop: 13, padRight: 18, yW: 29, xH: 43,
  xMin: 280, xMax: 294, yMin: -0.55, yMax: 3.49,
  xMajor: eXMajor, xMinor: eXMinor, yMajor: eYMajor, yMinor: eYMinor,
  series: [
    { label: "experimental data", pts: onGrid(eExpStart, eExpStep, eExpY), color: C_CIRC, width: 0.8, circles: true, order: 0 },
    { label: "fitting line", pts: eFit, color: C_FIT, width: 2.5, smooth: true, order: 40 },
    { label: "bkg.", pts: eBkg, color: C_BKG, width: 2, smooth: true, order: 30 },
    { label: "C-C/C-H", pts: eCC, color: C_VIOLET, width: 2, smooth: true, order: 10 },
    { label: "C-O", pts: eCO, color: C_LBLUE, width: 2, smooth: true, order: 11 },
    { label: "C=O", pts: eCdO, color: C_ORANGE, width: 2, smooth: true, order: 12 },
  ],
  letter: "e", title: "2-C 1s", parenX: 50, titleX: 90, labelY: 38.3,
  legend: { x0: 267, x1: 292, tx: 294, y0: 22.7, dy: 13.3 },
};

const PANELS = [panelA, panelB, panelC, panelD, panelE];

export default function App() {
  return (
    <div
      style={{
        position: "absolute",
        left: 0,
        top: 0,
        width: 792,
        height: 1014,
        overflow: "hidden",
        background: "#fff",
      }}
    >
      {PANELS.map((p) => (
        <PanelChart key={p.key} p={p} />
      ))}
    </div>
  );
}
